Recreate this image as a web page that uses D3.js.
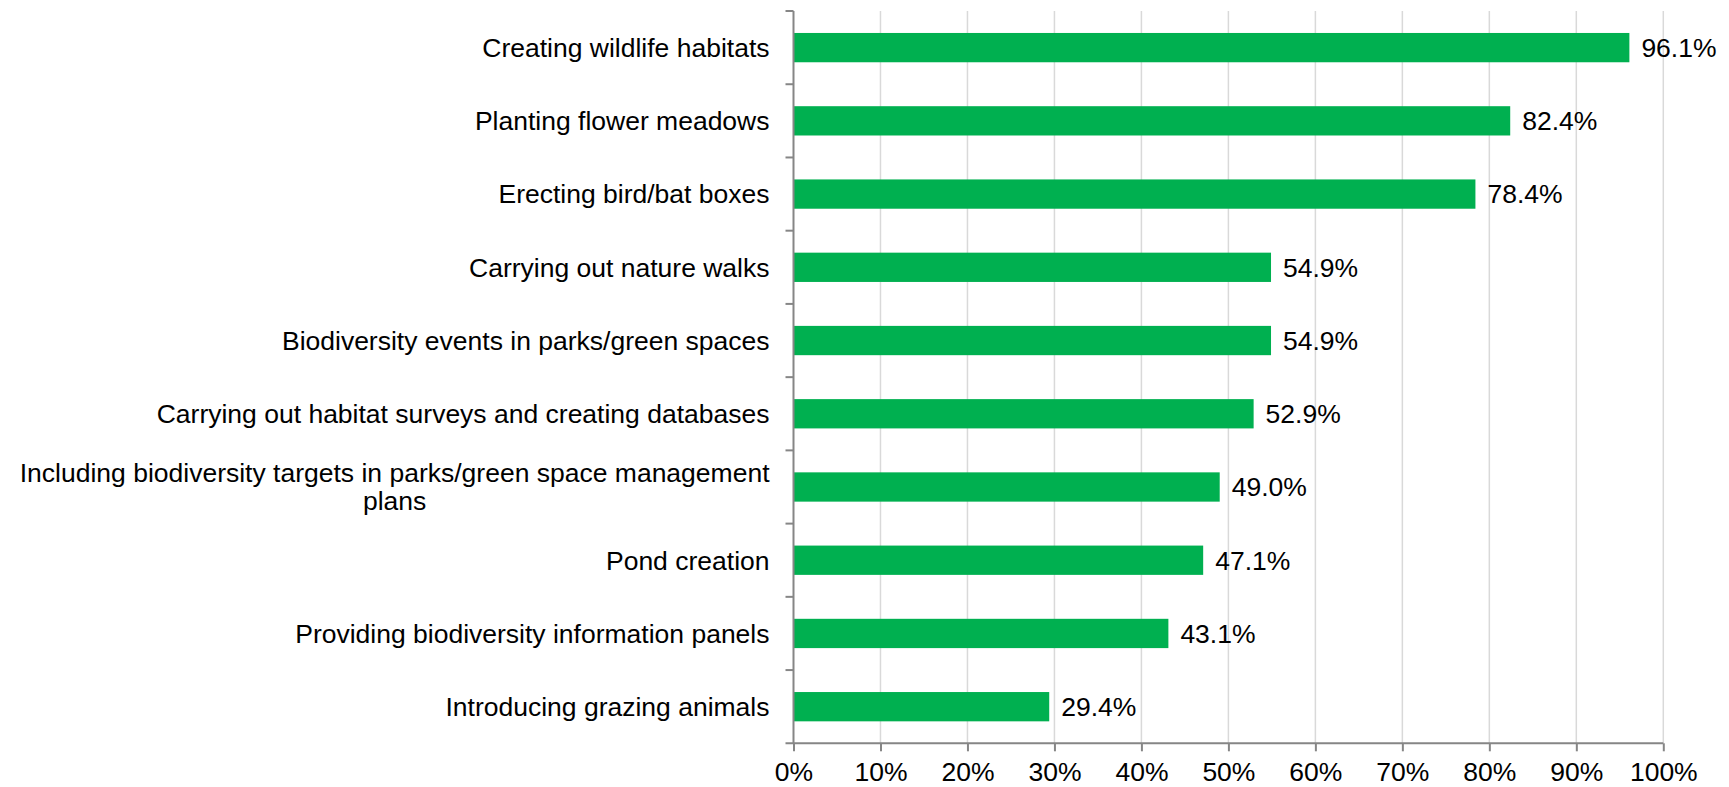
<!DOCTYPE html>
<html>
<head>
<meta charset="utf-8">
<script src="https://cdn.jsdelivr.net/npm/d3@7"></script>
<style>
  html, body { margin: 0; padding: 0; background: #ffffff; }
  svg { display: block; }
  text { font-family: "Liberation Sans", Arial, sans-serif; fill: #000; }
</style>
</head>
<body>
<svg id="chart" width="1729" height="787"></svg>
<script>
const categories = [
  "Creating wildlife habitats",
  "Planting flower meadows",
  "Erecting bird/bat boxes",
  "Carrying out nature walks",
  "Biodiversity events in parks/green spaces",
  "Carrying out habitat surveys and creating databases",
  "Including biodiversity targets in parks/green space management plans",
  "Pond creation",
  "Providing biodiversity information panels",
  "Introducing grazing animals"
];
const values = [96.1, 82.4, 78.4, 54.9, 54.9, 52.9, 49.0, 47.1, 43.1, 29.4];
const xTicks = [0, 10, 20, 30, 40, 50, 60, 70, 80, 90, 100];

const margin = { top: 11, left: 793.5 };
const innerW = 1663.3 - margin.left;
const innerH = 743.3 - margin.top;
const fs = 26.5;

const svg = d3.select("#chart");
const g = svg.append("g").attr("transform", `translate(${margin.left},${margin.top})`);

const x = d3.scaleLinear().domain([0, 100]).range([0, innerW]);
const y = d3.scaleBand().domain(categories).range([0, innerH]).paddingInner(0.6).paddingOuter(0.3);

// gridlines
g.append("g").selectAll("line").data(xTicks.filter(d => d > 0)).join("line")
  .attr("x1", d => x(d)).attr("x2", d => x(d))
  .attr("y1", 0).attr("y2", innerH)
  .attr("stroke", "#d9d9d9").attr("stroke-width", 1.5);

// bars
g.append("g").selectAll("rect").data(values).join("rect")
  .attr("x", 0)
  .attr("y", (d, i) => y(categories[i]))
  .attr("width", d => x(d))
  .attr("height", y.bandwidth())
  .attr("fill", "#00b050");

// value labels
g.append("g").selectAll("text").data(values).join("text")
  .attr("x", d => x(d) + 12)
  .attr("y", (d, i) => y(categories[i]) + y.bandwidth() / 2)
  .attr("dy", "0.35em")
  .attr("font-size", fs)
  .text(d => d.toFixed(1) + "%");

// x axis
const xAxis = g.append("g").attr("transform", `translate(0,${innerH})`)
  .call(d3.axisBottom(x).tickValues(xTicks).tickFormat(d => d + "%").tickSizeInner(8).tickSizeOuter(0).tickPadding(11));
xAxis.select(".domain").remove();
xAxis.selectAll(".tick line").attr("stroke", "#868686").attr("stroke-width", 2);
xAxis.selectAll(".tick text").attr("font-size", fs).attr("font-family", "Liberation Sans, Arial, sans-serif").attr("fill", "#000");
xAxis.append("line").attr("x1", -8).attr("x2", innerW).attr("y1", 0).attr("y2", 0)
  .attr("stroke", "#868686").attr("stroke-width", 2);

// y axis line and band boundary ticks
const yAxis = g.append("g");
yAxis.append("line").attr("x1", 0).attr("x2", 0).attr("y1", 0).attr("y2", innerH)
  .attr("stroke", "#868686").attr("stroke-width", 2);
yAxis.selectAll("line.tk").data(d3.range(categories.length)).join("line")
  .attr("class", "tk")
  .attr("x1", -8).attr("x2", 0)
  .attr("y1", i => i * innerH / categories.length)
  .attr("y2", i => i * innerH / categories.length)
  .attr("stroke", "#868686").attr("stroke-width", 2);

// category labels with wrapping
const labelRight = -24;
const maxW = 790;
const lineH = 28;
categories.forEach((c, i) => {
  const cy = y(c) + y.bandwidth() / 2;
  const t = g.append("text").attr("font-size", fs).attr("text-anchor", "end");
  const words = c.split(" ");
  const lines = [];
  let cur = [];
  const probe = g.append("text").attr("font-size", fs);
  words.forEach(w => {
    const test = cur.concat([w]).join(" ");
    probe.text(test);
    if (probe.node().getComputedTextLength() > maxW && cur.length) {
      lines.push(cur.join(" "));
      cur = [w];
    } else cur.push(w);
  });
  lines.push(cur.join(" "));
  const widths = lines.map(l => { probe.text(l); return probe.node().getComputedTextLength(); });
  probe.remove();
  const blockW = d3.max(widths);
  const n = lines.length;
  lines.forEach((l, k) => {
    t.append("tspan")
      .attr("text-anchor", n > 1 ? "middle" : "end")
      .attr("x", n > 1 ? labelRight - blockW / 2 : labelRight)
      .attr("y", cy + (k - (n - 1) / 2) * lineH)
      .attr("dy", "0.35em")
      .text(l);
  });
});
</script>
</body>
</html>
